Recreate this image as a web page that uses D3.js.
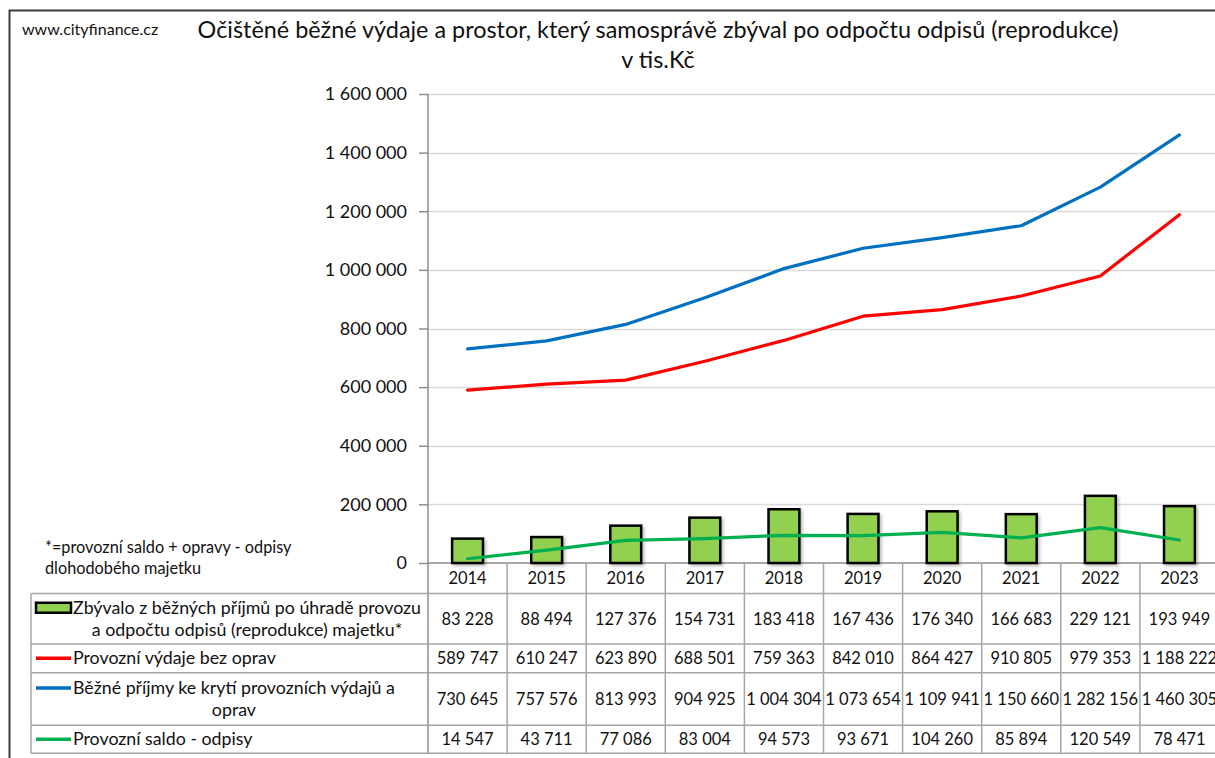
<!DOCTYPE html>
<html>
<head>
<meta charset="utf-8">
<script src="https://cdn.jsdelivr.net/npm/d3@7"></script>
<style>
  html, body { margin: 0; padding: 0; background: #fff; overflow: hidden; }
  svg { display: block; font-family: Lato, "Open Sans", "Noto Sans", sans-serif; }
</style>
</head>
<body>
<svg id="chart" width="1215" height="758"></svg>
<script>
// ---------- data ----------
const years = ["2014","2015","2016","2017","2018","2019","2020","2021","2022","2023"];
const zbyvalo = [83228, 88494, 127376, 154731, 183418, 167436, 176340, 166683, 229121, 193949];
const vydaje  = [589747, 610247, 623890, 688501, 759363, 842010, 864427, 910805, 979353, 1188222];
const prijmy  = [730645, 757576, 813993, 904925, 1004304, 1073654, 1109941, 1150660, 1282156, 1460305];
const saldo   = [14547, 43711, 77086, 83004, 94573, 93671, 104260, 85894, 120549, 78471];
const yTicks  = [0, 200000, 400000, 600000, 800000, 1000000, 1200000, 1400000, 1600000];

const titleLines = ["Očištěné běžné výdaje a prostor, který samosprávě zbýval po odpočtu odpisů (reprodukce)", "v tis.Kč"];
const sourceText = "www.cityfinance.cz";
const noteLines = ["*=provozní saldo + opravy - odpisy", "dlohodobého majetku"];
const seriesNames = [
  ["Zbývalo z běžných příjmů po úhradě provozu", "a odpočtu odpisů (reprodukce) majetku*"],
  ["Provozní výdaje bez oprav"],
  ["Běžné příjmy ke krytí provozních výdajů a", "oprav"],
  ["Provozní saldo - odpisy"]
];

// ---------- layout ----------
const svg = d3.select("#chart");
const plotLeft = 428, plotRight = 1219, plotTop = 94, plotBottom = 563;
const tableLeft = 31;
const rowEdges = [563, 593.5, 644, 672.7, 725.3, 753.3];
const textColor = "#111";
const gridColor = "#d9d9d9";
const axisColor = "#8c8c8c";
const tableColor = "#a6a6a6";
const colors = { bar: "#92D050", red: "#FF0000", blue: "#0070C0", green: "#00B050" };

const fmtLocale = d3.formatLocale({ decimal: ",", thousands: " ", grouping: [3], currency: ["", ""] });
const fmt = fmtLocale.format(",d");

const x = d3.scaleBand().domain(years).range([plotLeft, plotRight]).paddingInner(0).paddingOuter(0);
const y = d3.scaleLinear().domain([0, 1600000]).range([plotBottom, plotTop]);

// drop shadow filter for bars
const defs = svg.append("defs");
const f = defs.append("filter").attr("id", "shadow").attr("x", "-20%").attr("y", "-20%").attr("width", "150%").attr("height", "150%");
f.append("feDropShadow").attr("dx", 2).attr("dy", 2).attr("stdDeviation", 1.5).attr("flood-color", "#000").attr("flood-opacity", 0.25);

// outer border
svg.append("path").attr("d", "M9.5,758 L9.5,10.5 L1215,10.5").attr("fill", "none").attr("stroke", "#3a3a3a").attr("stroke-width", 2);

// source text
svg.append("text").attr("x", 22).attr("y", 35).attr("font-size", 16).attr("fill", textColor).text(sourceText);

// title
svg.append("text").attr("x", 658).attr("y", 38).attr("text-anchor", "middle").attr("font-size", 23.4).attr("fill", textColor).text(titleLines[0]);
svg.append("text").attr("x", 658).attr("y", 68).attr("text-anchor", "middle").attr("font-size", 23.4).attr("fill", textColor).text(titleLines[1]);

// gridlines
svg.append("g").selectAll("line").data(yTicks.filter(d => d > 0)).join("line")
  .attr("x1", plotLeft).attr("x2", plotRight)
  .attr("y1", d => Math.round(y(d)) + 0.5).attr("y2", d => Math.round(y(d)) + 0.5)
  .attr("stroke", gridColor).attr("stroke-width", 1.5);

// y axis
const yAxis = d3.axisLeft(y).tickValues(yTicks).tickFormat(fmt).tickSize(9).tickPadding(12);
const gy = svg.append("g").attr("transform", `translate(${plotLeft},0)`).call(yAxis);
gy.select(".domain").remove();
gy.selectAll(".tick line").attr("stroke", axisColor).attr("stroke-width", 1.5);
gy.selectAll(".tick text").attr("font-size", 18).attr("fill", textColor).attr("font-family", "Lato, 'Open Sans', sans-serif");
svg.append("line").attr("x1", plotLeft).attr("x2", plotLeft).attr("y1", plotTop).attr("y2", rowEdges[5])
  .attr("stroke", axisColor).attr("stroke-width", 1.5);

// x axis line
svg.append("line").attr("x1", plotLeft).attr("x2", plotRight).attr("y1", plotBottom).attr("y2", plotBottom)
  .attr("stroke", axisColor).attr("stroke-width", 1.5);

// table lines
const tbl = svg.append("g").attr("stroke", tableColor).attr("stroke-width", 1.5);
rowEdges.slice(1).forEach(ry => {
  tbl.append("line").attr("x1", tableLeft).attr("x2", plotRight).attr("y1", ry).attr("y2", ry);
});
tbl.append("line").attr("x1", tableLeft).attr("x2", tableLeft).attr("y1", rowEdges[1]).attr("y2", rowEdges[5]);
years.forEach(yr => {
  const xr = x(yr) + x.bandwidth();
  tbl.append("line").attr("x1", xr).attr("x2", xr).attr("y1", rowEdges[0]).attr("y2", rowEdges[5]);
});

// bars
const barW = x.bandwidth() * 0.39;
svg.append("g").selectAll("rect").data(years).join("rect")
  .attr("x", (d) => x(d) + x.bandwidth() / 2 - barW / 2)
  .attr("y", (d, i) => y(zbyvalo[i]))
  .attr("width", barW)
  .attr("height", (d, i) => y(0) - y(zbyvalo[i]))
  .attr("fill", colors.bar).attr("stroke", "#000").attr("stroke-width", 2.5)
  .attr("filter", "url(#shadow)");

// lines
const cx = d => x(d) + x.bandwidth() / 2;
const lineGen = d3.line().x((d, i) => cx(years[i])).y(d => y(d)).curve(d3.curveLinear);
[[vydaje, colors.red], [prijmy, colors.blue], [saldo, colors.green]].forEach(([data, c]) => {
  svg.append("path").datum(data).attr("d", lineGen).attr("fill", "none").attr("stroke", c)
    .attr("stroke-width", 3.2).attr("stroke-linejoin", "round").attr("stroke-linecap", "round");
});

// footnote
noteLines.forEach((t, i) => {
  svg.append("text").attr("x", 45).attr("y", 553 + i * 21).attr("font-size", 16.3).attr("fill", textColor).text(t);
});

// year header
svg.append("g").selectAll("text").data(years).join("text")
  .attr("x", d => cx(d)).attr("y", (rowEdges[0] + rowEdges[1]) / 2 + 6)
  .attr("text-anchor", "middle").attr("font-size", 16.5).attr("fill", textColor).text(d => d);

// table rows
const rowsData = [zbyvalo, vydaje, prijmy, saldo];
const keyColors = [colors.bar, colors.red, colors.blue, colors.green];
rowsData.forEach((vals, r) => {
  const top = rowEdges[r + 1], bot = rowEdges[r + 2];
  const mid = (top + bot) / 2;
  // key
  if (r === 0) {
    svg.append("rect").attr("x", 36).attr("y", mid - 11 - 5).attr("width", 35).attr("height", 10)
      .attr("fill", colors.bar).attr("stroke", "#000").attr("stroke-width", 2.5);
  } else {
    const ky = seriesNames[r].length > 1 ? mid - 11 : mid;
    svg.append("line").attr("x1", 36).attr("x2", 71).attr("y1", ky).attr("y2", ky)
      .attr("stroke", keyColors[r]).attr("stroke-width", 3.5);
  }
  // names
  const names = seriesNames[r];
  const lineH = 22;
  const firstY = mid - (names.length - 1) * lineH / 2 + 6;
  const t1 = svg.append("text").attr("x", 73).attr("y", firstY).attr("font-size", 17.8).attr("fill", textColor).text(names[0]);
  if (names.length > 1) {
    const w1 = t1.node().getComputedTextLength();
    svg.append("text").attr("x", 73 + w1 / 2).attr("y", firstY + lineH).attr("text-anchor", "middle")
      .attr("font-size", 17.8).attr("fill", textColor).text(names[1]);
  }
  // values
  svg.append("g").selectAll("text").data(vals).join("text")
    .attr("x", (d, i) => cx(years[i])).attr("y", mid + 6)
    .attr("text-anchor", "middle").attr("font-size", 16.5).attr("fill", textColor).text(d => fmt(d));
});
</script>
</body>
</html>
